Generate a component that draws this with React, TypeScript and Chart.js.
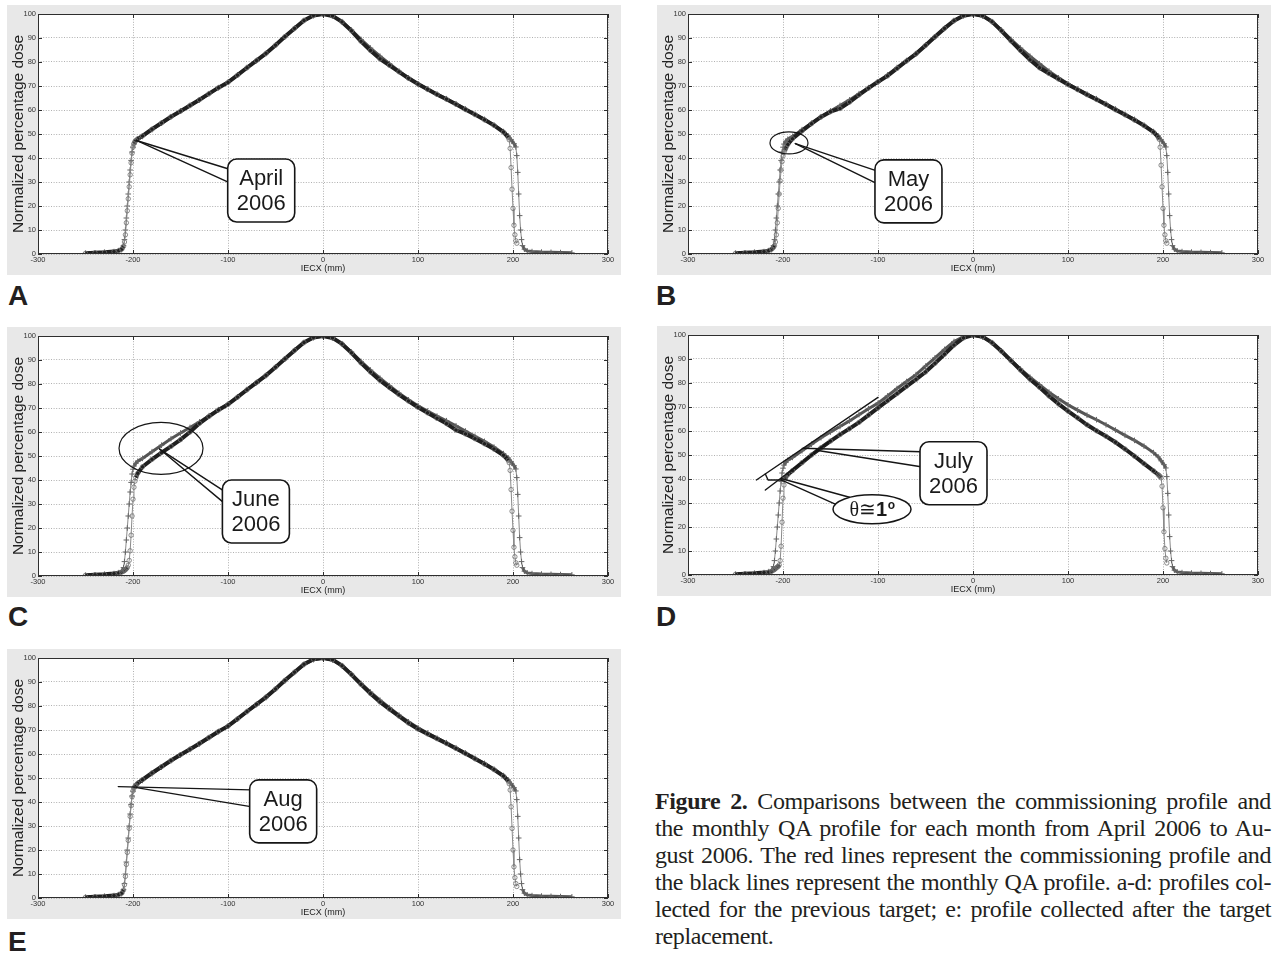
import { useEffect, useRef } from 'react';
import { Chart, registerables } from 'chart.js';

Chart.register(...registerables);

// ---------- data ----------
const X_TICKS = [-300, -200, -100, 0, 100, 200, 300];
const Y_TICKS = [0, 10, 20, 30, 40, 50, 60, 70, 80, 90, 100];

// commissioning profile ("+" markers), IECX in mm
const COMM_X = [-250, -240, -230, -220, -215, -212, -210, -209, -208, -207, -206, -205, -204, -203, -202, -201, -200, -199, -197, -195,
  -190, -180, -170, -160, -150, -140, -130, -120, -110, -100, -90, -80, -70, -60, -50, -40, -30, -20, -10, 0,
  10, 20, 30, 40, 50, 60, 70, 80, 90, 100, 110, 120, 130, 140, 150, 160, 170, 180, 190,
  195, 198, 201, 203, 204, 205, 206, 207, 208, 209, 210, 212, 215, 220, 230, 240, 250, 262];
const COMM_Y = [0.3, 0.5, 0.7, 1.0, 1.4, 1.8, 3.5, 6, 10, 15, 20, 25, 30, 35, 39, 42.5, 44.5, 45.8, 47, 47.8,
  49.0, 51.8, 54.5, 57.2, 59.6, 61.9, 64.2, 66.8, 69.3, 71.6, 74.6, 77.7, 80.6, 83.5, 87.0, 90.5, 94.0, 97.3, 99.3, 100,
  99.2, 96.8, 93.3, 89.4, 85.8, 82.4, 79.3, 76.2, 73.4, 70.9, 68.7, 66.6, 64.7, 62.6, 60.4, 58.2, 56.1, 53.7, 51.0,
  49.2, 47.6, 46.0, 44.6, 41, 34, 25, 16, 10, 6, 3.5, 2.0, 1.3, 1.0, 0.8, 0.7, 0.6, 0.5];

// monthly QA profiles (circle markers)
const QA_X = [-250, -240, -230, -220, -215, -212, -210, -209, -208, -207, -206, -205, -204, -203, -202, -201, -200, -199, -198, -197, -195,
  -190, -180, -170, -160, -150, -140, -130, -120, -110, -100, -90, -80, -70, -60, -50, -40, -30, -20, -10, 0,
  10, 20, 30, 40, 50, 60, 70, 80, 90, 100, 110, 120, 130, 140, 150, 160, 170, 180, 190,
  195, 196, 197, 198, 199, 200, 201, 202, 203, 204];

const QA_APRIL_Y = [0.3, 0.5, 0.7, 1.0, 1.4, 2.0, 3.2, 5, 8, 13, 18, 23, 28, 33, 38, 42, 44.5, 46, 46.8, 47.3, 48.0,
  49.2, 52.0, 54.6, 57.2, 59.5, 61.9, 64.3, 66.8, 69.3, 71.5, 74.5, 77.6, 80.6, 83.6, 87.0, 90.6, 94.0, 97.3, 99.4, 100,
  99.2, 96.7, 93.0, 88.6, 84.8, 81.3, 78.6, 75.9, 73.2, 70.8, 68.6, 66.5, 64.5, 62.4, 60.2, 58.1, 55.9, 53.6, 50.8,
  48.6, 47.6, 44, 36, 27, 19, 12, 8, 5.5, 4.5];

const QA_MAY_Y = [0.3, 0.5, 0.7, 1.0, 1.4, 2.0, 2.8, 3.5, 5, 8, 13, 19, 25, 30.5, 35, 38.5, 40.8, 42.3, 43.3, 44.2, 45.6,
  48.0, 51.3, 54.3, 57.1, 59.3, 60.6, 63.3, 66.3, 69.1, 71.8, 74.2, 77.3, 80.4, 83.4, 86.9, 90.5, 94.0, 97.2, 99.3, 100,
  99.3, 96.8, 93.0, 88.8, 84.8, 80.9, 77.6, 75.2, 72.9, 70.6, 68.5, 66.4, 64.4, 62.3, 60.1, 58.0, 55.8, 53.5, 50.8,
  48.7, 47.8, 44.5, 37, 28, 19, 12, 8, 5.5, 4.5];

const QA_JUNE_Y = [0.3, 0.5, 0.7, 1.0, 1.3, 1.6, 2.0, 2.3, 2.6, 3.0, 3.5, 4.5, 6.5, 10.5, 17, 25, 32, 37, 39.5, 41, 42.8,
  45.5, 48.6, 51.4, 54.0, 56.8, 60.0, 63.6, 66.5, 69.2, 71.5, 74.5, 77.6, 80.6, 83.6, 87.0, 90.5, 94.0, 97.3, 99.4, 100,
  99.2, 96.7, 93.0, 88.8, 85.0, 81.5, 78.5, 75.6, 72.9, 70.3, 68.0, 65.7, 63.5, 60.8, 59.2, 57.2, 55.1, 52.9, 50.3,
  48.2, 47.2, 44, 36, 27, 19, 12, 8, 5.5, 4.5];

const QA_JULY_Y = [0.3, 0.5, 0.7, 1.0, 1.2, 1.5, 2.0, 2.3, 2.6, 3.0, 3.3, 3.6, 4.2, 6, 12, 22, 32, 37.5, 40.0, 40.8, 41.8,
  43.5, 46.8, 50.0, 53.0, 55.8, 58.5, 61.0, 63.6, 66.6, 69.6, 72.6, 75.6, 78.6, 81.5, 84.6, 88.2, 92.0, 95.8, 98.8, 100,
  99.3, 96.8, 93.2, 89.3, 85.4, 81.6, 78.2, 74.6, 71.3, 68.3, 65.5, 62.6, 60.1, 57.8, 55.3, 52.5, 49.5, 46.4, 43.4,
  41.8, 41.4, 41.0, 40.5, 37, 28, 18, 11, 7, 5];

const QA_AUG_Y = [0.3, 0.5, 0.7, 1.0, 1.4, 2.0, 3.3, 5.5, 9, 14, 19, 24, 29, 34, 38.5, 42.2, 44.6, 45.8, 46.5, 47.0, 47.8,
  49.3, 52.1, 54.7, 57.3, 59.7, 62.0, 64.4, 66.9, 69.4, 71.6, 74.6, 77.7, 80.7, 83.7, 87.1, 90.7, 94.1, 97.4, 99.5, 100,
  99.3, 96.8, 93.1, 89.0, 85.2, 81.7, 78.7, 75.8, 72.9, 70.4, 68.4, 66.4, 64.4, 62.3, 60.2, 58.0, 55.8, 53.5, 50.8,
  48.7, 47.6, 45, 38, 29, 20, 13, 8.5, 6, 4.8];

// ---------- annotations (data coordinates) ----------
type Pt = [number, number];
interface Annot {
  callout: { text: [string, string]; box: Pt; pointers: { from: Pt; dy: number }[] };
  ellipses?: { c: Pt; rx: number; ry: number }[];
  lines?: Pt[][];
  theta?: { c: Pt; rx: number; ry: number };
}

const ANNOT_A: Annot = {
  callout: { text: ['April', '2006'], box: [-100.3, 39.6], pointers: [{ from: [-196.4, 47.3], dy: 10 }, { from: [-196.4, 47.3], dy: 23.4 }] },
};
const ANNOT_B: Annot = {
  callout: { text: ['May', '2006'], box: [-103.2, 39.2], pointers: [{ from: [-187, 46], dy: 10.7 }, { from: [-187, 46], dy: 23.3 }] },
  ellipses: [{ c: [-193.7, 46.3], rx: 19, ry: 11 }],
};
const ANNOT_C: Annot = {
  callout: { text: ['June', '2006'], box: [-105.9, 40.0], pointers: [{ from: [-172, 52.9], dy: 10.7 }, { from: [-172, 52.9], dy: 22.4 }] },
  ellipses: [{ c: [-170.5, 53.2], rx: 42, ry: 26 }],
};
const ANNOT_D: Annot = {
  callout: { text: ['July', '2006'], box: [-55.8, 55.5], pointers: [{ from: [-179, 52.8], dy: 10 }, { from: [-165, 52], dy: 25 }] },
  lines: [
    [[-228, 39.6], [-100, 74]],
    [[-218.6, 35.4], [-150, 56]],
    [[-218.6, 42.1], [-215.7, 39.6], [-200.9, 39.6]],
    [[-202, 39.6], [-145, 29.5]],
    [[-202, 40.2], [-130, 32.4]],
  ],
  theta: { c: [-106.3, 27.4], rx: 39, ry: 14.5 },
};
const ANNOT_E: Annot = {
  callout: { text: ['Aug', '2006'], box: [-77.2, 49.2], pointers: [{ from: [-215.5, 46.4], dy: 10 }, { from: [-196.4, 46], dy: 26.7 }] },
};

// ---------- styling ----------
const SANS = '"Liberation Sans", Arial, Helvetica, sans-serif';
const SERIF = '"Liberation Serif", "Times New Roman", serif';
const PANEL_BG = '#e8e8e8';
const CANVAS_W = 614;
const CANVAS_H = 270;
const BOX_W = 67;
const BOX_H = 63;

interface PanelCfg { id: string; left: number; top: number; qaY: number[]; annot: Annot; }

const PANELS: PanelCfg[] = [
  { id: 'A', left: 7, top: 5, qaY: QA_APRIL_Y, annot: ANNOT_A },
  { id: 'B', left: 657, top: 5, qaY: QA_MAY_Y, annot: ANNOT_B },
  { id: 'C', left: 7, top: 327, qaY: QA_JUNE_Y, annot: ANNOT_C },
  { id: 'D', left: 657, top: 326, qaY: QA_JULY_Y, annot: ANNOT_D },
  { id: 'E', left: 7, top: 649, qaY: QA_AUG_Y, annot: ANNOT_E },
];

const LETTERS = [
  { t: 'A', left: 8, top: 282 },
  { t: 'B', left: 656, top: 282 },
  { t: 'C', left: 8, top: 603 },
  { t: 'D', left: 656, top: 603 },
  { t: 'E', left: 8, top: 928 },
];

const steep = (c: any) => Math.abs(c.p1.y - c.p0.y) > 2.5 * Math.abs(c.p1.x - c.p0.x);

function makeFigurePlugin(annot: Annot) {
  return {
    id: 'figureDecor',
    beforeDraw(chart: any) {
      const { ctx, chartArea: a, width, height } = chart;
      ctx.save();
      ctx.fillStyle = PANEL_BG;
      ctx.fillRect(0, 0, width, height);
      ctx.fillStyle = '#ffffff';
      ctx.fillRect(a.left, a.top, a.right - a.left, a.bottom - a.top);
      ctx.restore();
    },
    afterDraw(chart: any) {
      const { ctx, chartArea: a, scales } = chart;
      const px = (v: number) => scales.x.getPixelForValue(v);
      const py = (v: number) => scales.y.getPixelForValue(v);
      ctx.save();
      // frame + inward ticks
      ctx.strokeStyle = '#2e2e2e';
      ctx.lineWidth = 1;
      ctx.strokeRect(a.left + 0.5, a.top + 0.5, a.right - a.left - 1, a.bottom - a.top - 1);
      ctx.beginPath();
      X_TICKS.forEach((v) => {
        const x = Math.round(px(v)) + 0.5;
        ctx.moveTo(x, a.bottom); ctx.lineTo(x, a.bottom - 4);
        ctx.moveTo(x, a.top); ctx.lineTo(x, a.top + 4);
      });
      Y_TICKS.forEach((v) => {
        const y = Math.round(py(v)) + 0.5;
        ctx.moveTo(a.left, y); ctx.lineTo(a.left + 4, y);
        ctx.moveTo(a.right, y); ctx.lineTo(a.right - 4, y);
      });
      ctx.stroke();

      // annotation lines
      ctx.strokeStyle = '#151515';
      ctx.lineWidth = 1.4;
      ctx.lineCap = 'round';
      ctx.lineJoin = 'round';
      (annot.lines || []).forEach((pl) => {
        ctx.beginPath();
        pl.forEach(([x, y], i) => (i ? ctx.lineTo(px(x), py(y)) : ctx.moveTo(px(x), py(y))));
        ctx.stroke();
      });
      (annot.ellipses || []).forEach((e) => {
        ctx.beginPath();
        ctx.ellipse(px(e.c[0]), py(e.c[1]), e.rx, e.ry, 0, 0, Math.PI * 2);
        ctx.lineWidth = 1.2;
        ctx.stroke();
      });

      // theta label
      if (annot.theta) {
        const t = annot.theta;
        const cx = px(t.c[0]);
        const cy = py(t.c[1]);
        ctx.beginPath();
        ctx.ellipse(cx, cy, t.rx, t.ry, 0, 0, Math.PI * 2);
        ctx.fillStyle = '#ffffff';
        ctx.fill();
        ctx.lineWidth = 1.5;
        ctx.stroke();
        const f1 = `20px ${SERIF}, "DejaVu Serif"`;
        const f2 = `bold 20px ${SANS}`;
        const f3 = `bold 12px ${SANS}`;
        ctx.font = f1; const w1 = ctx.measureText('θ≅').width;
        ctx.font = f2; const w2 = ctx.measureText('1').width;
        ctx.font = f3; const w3 = ctx.measureText('o').width;
        let x0 = cx - (w1 + w2 + w3) / 2;
        const base = cy + 7;
        ctx.fillStyle = '#1a1a1a';
        ctx.textAlign = 'left';
        ctx.textBaseline = 'alphabetic';
        ctx.font = f1; ctx.fillText('θ≅', x0, base); x0 += w1;
        ctx.font = f2; ctx.fillText('1', x0, base); x0 += w2;
        ctx.font = f3; ctx.fillText('o', x0 + 0.5, base - 7);
      }

      // callout
      const c = annot.callout;
      const bx = px(c.box[0]);
      const by = py(c.box[1]);
      ctx.strokeStyle = '#151515';
      ctx.lineWidth = 1.4;
      c.pointers.forEach((p) => {
        ctx.beginPath();
        ctx.moveTo(px(p.from[0]), py(p.from[1]));
        ctx.lineTo(bx + 1, by + p.dy);
        ctx.stroke();
      });
      ctx.beginPath();
      ctx.roundRect(bx, by, BOX_W, BOX_H, 9);
      ctx.fillStyle = '#ffffff';
      ctx.fill();
      ctx.lineWidth = 1.6;
      ctx.stroke();
      ctx.fillStyle = '#1a1a1a';
      ctx.font = `22px ${SANS}`;
      ctx.textAlign = 'center';
      ctx.textBaseline = 'middle';
      ctx.fillText(c.text[0], bx + BOX_W / 2, by + 20);
      ctx.fillText(c.text[1], bx + BOX_W / 2, by + 45);
      ctx.restore();
    },
  };
}

function buildConfig(cfg: PanelCfg): any {
  const comm = COMM_X.map((x, i) => ({ x, y: COMM_Y[i] }));
  const qa = QA_X.map((x, i) => ({ x, y: cfg.qaY[i] }));
  return {
    type: 'scatter',
    data: {
      datasets: [
        {
          label: 'Monthly QA profile',
          data: qa,
          showLine: true,
          order: 0,
          borderColor: '#1c1c1c',
          borderWidth: 4,
          segment: {
            borderWidth: (c: any) => (steep(c) ? 1 : 4),
            borderColor: (c: any) => (steep(c) ? '#8a8a8a' : '#202020'),
          },
          pointStyle: 'circle',
          pointRadius: 2.2,
          pointBorderWidth: 0.8,
          pointBorderColor: '#6e6e6e',
          pointBackgroundColor: 'rgba(255,255,255,0)',
        },
        {
          label: 'Commissioning profile',
          data: comm,
          showLine: true,
          order: 1,
          borderColor: '#555555',
          borderWidth: 3,
          segment: {
            borderWidth: (c: any) => (steep(c) ? 1 : 3),
            borderColor: (c: any) => (steep(c) ? '#8a8a8a' : '#555555'),
          },
          pointStyle: 'cross',
          pointRadius: 2.8,
          pointBorderWidth: 1,
          pointBorderColor: '#666666',
        },
      ],
    },
    options: {
      animation: false,
      responsive: false,
      devicePixelRatio: 1,
      events: [],
      layout: { padding: { left: 0, right: 13, top: 9, bottom: 0 } },
      plugins: { legend: { display: false }, tooltip: { enabled: false }, title: { display: false } },
      scales: {
        x: {
          type: 'linear',
          min: -300,
          max: 300,
          afterBuildTicks: (s: any) => { s.ticks = X_TICKS.map((v) => ({ value: v })); },
          afterFit: (s: any) => { s.height = 21; },
          ticks: { font: { family: SANS, size: 7.5 }, color: '#333', padding: 1, maxRotation: 0, autoSkip: false },
          grid: { color: '#9c9c9c', lineWidth: 0.8, drawTicks: false },
          border: { display: false, dash: [1, 1.6] },
          title: { display: true, text: 'IECX (mm)', font: { family: SANS, size: 9, lineHeight: 1.2 }, color: '#222', padding: { top: 0, bottom: 1 } },
        },
        y: {
          type: 'linear',
          min: 0,
          max: 100,
          afterBuildTicks: (s: any) => { s.ticks = Y_TICKS.map((v) => ({ value: v })); },
          afterFit: (s: any) => { s.width = 31; },
          ticks: { font: { family: SANS, size: 7.5 }, color: '#333', padding: 2, autoSkip: false },
          grid: { color: '#9c9c9c', lineWidth: 0.8, drawTicks: false },
          border: { display: false, dash: [1, 1.6] },
          title: { display: true, text: 'Normalized percentage dose', font: { family: SANS, size: 15.5, lineHeight: 1.2 }, color: '#222', padding: { top: 2, bottom: 0 } },
        },
      },
    },
    plugins: [makeFigurePlugin(cfg.annot)],
  };
}

function Panel({ cfg }: { cfg: PanelCfg }) {
  const ref = useRef<HTMLCanvasElement | null>(null);
  useEffect(() => {
    if (!ref.current) return;
    const chart = new Chart(ref.current, buildConfig(cfg));
    return () => chart.destroy();
  }, [cfg]);
  return (
    <canvas
      ref={ref}
      width={CANVAS_W}
      height={CANVAS_H}
      style={{ position: 'absolute', left: cfg.left, top: cfg.top, width: CANVAS_W, height: CANVAS_H, display: 'block' }}
    />
  );
}

const CAPTION_LINES = [
  'Comparisons between the commissioning profile and',
  'the monthly QA profile for each month from April 2006 to Au-',
  'gust 2006. The red lines represent the commissioning profile and',
  'the black lines represent the monthly QA profile. a-d: profiles col-',
  'lected for the previous target; e: profile collected after the target',
  'replacement.',
];

export default function App() {
  return (
    <div style={{ position: 'absolute', left: 0, top: 0, width: 1272, height: 956, background: '#ffffff', overflow: 'hidden' }}>
      {PANELS.map((p) => (
        <Panel key={p.id} cfg={p} />
      ))}
      {LETTERS.map((l) => (
        <div
          key={l.t}
          style={{ position: 'absolute', left: l.left, top: l.top, font: `bold 28px ${SANS}`, lineHeight: '28px', color: '#231f20' }}
        >
          {l.t}
        </div>
      ))}
      <div style={{ position: 'absolute', left: 655, top: 788, width: 616, fontFamily: SERIF, fontSize: 24, letterSpacing: '-0.4px', lineHeight: '27px', color: '#231f20' }}>
        {CAPTION_LINES.map((line, i) => (
          <div key={i} style={{ textAlign: 'justify', textAlignLast: i < CAPTION_LINES.length - 1 ? 'justify' : 'left', whiteSpace: 'nowrap' }}>
            {i === 0 ? <b>Figure 2. </b> : null}
            {line}
          </div>
        ))}
      </div>
    </div>
  );
}
